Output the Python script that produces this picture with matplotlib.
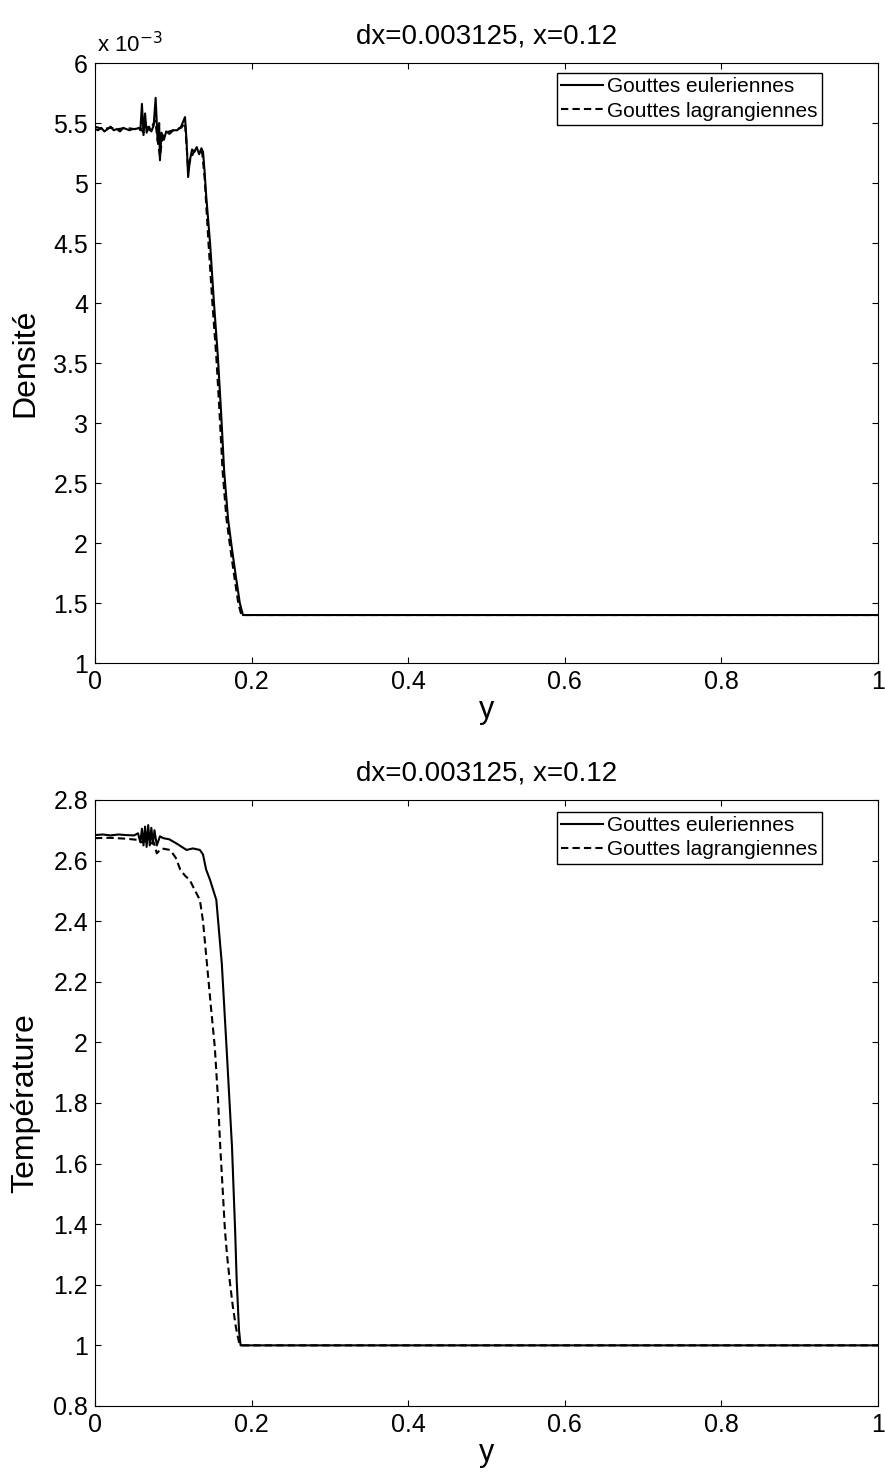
import matplotlib
matplotlib.use('Agg')
import matplotlib.pyplot as plt

plt.rcParams['font.family'] = ['Liberation Sans', 'DejaVu Sans']

# densité (en unités de 1e-3)
y_dens_e = [0.000, 0.004, 0.008, 0.012, 0.016, 0.020, 0.024, 0.028, 0.032, 0.036,
            0.040, 0.044, 0.048, 0.052, 0.056, 0.058, 0.060, 0.062, 0.064, 0.066,
            0.069, 0.072, 0.075, 0.0775, 0.080, 0.082, 0.083, 0.085, 0.088, 0.091,
            0.095, 0.100, 0.105, 0.110, 0.115, 0.117, 0.119, 0.121, 0.124, 0.127,
            0.130, 0.133, 0.136, 0.138, 0.140, 0.142, 0.147, 0.152, 0.157, 0.161,
            0.165, 0.170, 0.175, 0.180, 0.185, 0.189, 1.000]
dens_e = [5.45, 5.44, 5.46, 5.43, 5.45, 5.47, 5.44, 5.45, 5.43, 5.46,
          5.45, 5.44, 5.45, 5.45, 5.46, 5.44, 5.66, 5.40, 5.58, 5.42,
          5.47, 5.43, 5.48, 5.71, 5.35, 5.50, 5.19, 5.42, 5.36, 5.43,
          5.41, 5.44, 5.44, 5.47, 5.55, 5.35, 5.05, 5.18, 5.28, 5.26,
          5.30, 5.24, 5.29, 5.26, 5.10, 4.90, 4.50, 4.00, 3.55, 3.10,
          2.60, 2.20, 1.95, 1.72, 1.50, 1.40, 1.40]

y_dens_l = [0.000, 0.010, 0.020, 0.030, 0.040, 0.050, 0.058, 0.062, 0.066, 0.070,
            0.077, 0.080, 0.083, 0.086, 0.090, 0.100, 0.110, 0.115, 0.119, 0.122,
            0.127, 0.133, 0.137, 0.140, 0.145, 0.150, 0.155, 0.159, 0.163, 0.168,
            0.173, 0.178, 0.183, 0.187, 1.000]
dens_l = [5.47, 5.45, 5.46, 5.45, 5.46, 5.45, 5.46, 5.42, 5.47, 5.44,
          5.52, 5.36, 5.22, 5.38, 5.42, 5.44, 5.46, 5.50, 5.12, 5.20,
          5.27, 5.27, 5.25, 5.05, 4.50, 4.00, 3.55, 3.10, 2.60, 2.20,
          1.95, 1.72, 1.50, 1.40, 1.40]

# température
y_temp_e = [0.000, 0.010, 0.020, 0.030, 0.040, 0.050, 0.055, 0.058, 0.060, 0.062,
            0.064, 0.066, 0.068, 0.070, 0.072, 0.074, 0.076, 0.079, 0.083, 0.087,
            0.095, 0.105, 0.117, 0.125, 0.134, 0.138, 0.142, 0.147, 0.155, 0.162,
            0.168, 0.175, 0.179, 0.181, 0.184, 0.186, 1.000]
temp_e = [2.684, 2.686, 2.683, 2.686, 2.684, 2.683, 2.690, 2.660, 2.705, 2.650,
          2.712, 2.645, 2.717, 2.650, 2.708, 2.655, 2.700, 2.650, 2.680, 2.674,
          2.670, 2.655, 2.635, 2.640, 2.635, 2.620, 2.570, 2.536, 2.470, 2.260,
          1.986, 1.656, 1.380, 1.216, 1.050, 1.000, 1.000]

y_temp_l = [0.000, 0.020, 0.040, 0.055, 0.060, 0.065, 0.070, 0.075, 0.079, 0.085,
            0.096, 0.103, 0.109, 0.115, 0.121, 0.128, 0.134, 0.138, 0.143, 0.148,
            0.153, 0.157, 0.160, 0.163, 0.166, 0.169, 0.172, 0.176, 0.180, 0.184,
            0.186, 1.000]
temp_l = [2.674, 2.675, 2.672, 2.668, 2.660, 2.665, 2.655, 2.660, 2.624, 2.640,
          2.635, 2.610, 2.570, 2.550, 2.536, 2.500, 2.470, 2.400, 2.260, 2.120,
          1.986, 1.820, 1.656, 1.520, 1.380, 1.290, 1.216, 1.130, 1.060, 1.010,
          1.000, 1.000]

title = 'dx=0.003125, x=0.12'
labels = ['Gouttes euleriennes', 'Gouttes lagrangiennes']


def style_axes(ax):
    ax.tick_params(direction='in', top=True, right=True, labelsize=18, length=4, pad=5)
    for s in ax.spines.values():
        s.set_linewidth(0.8)
    ax.set_xlim(0, 1)
    ax.set_xticks([0, 0.2, 0.4, 0.6, 0.8, 1])
    ax.set_xticklabels(['0', '0.2', '0.4', '0.6', '0.8', '1'])
    ax.set_xlabel('y', fontsize=22, labelpad=1)
    ax.set_title(title, fontsize=20, pad=14)


def add_legend(ax, top):
    ax.legend(loc='upper right', bbox_to_anchor=(0.928, top), fontsize=15,
              frameon=True, fancybox=False, edgecolor='black', framealpha=1,
              handlelength=2.0, borderpad=0.2, labelspacing=0.25,
              handletextpad=0.2, borderaxespad=0)


fig = plt.figure(figsize=(8.85, 14.77), dpi=100)

ax1 = fig.add_axes([0.1073, 0.5511, 0.8847, 0.4062])
ax1.plot(y_dens_e, dens_e, 'k-', lw=1.5, label=labels[0])
ax1.plot(y_dens_l, dens_l, 'k--', lw=1.5, dashes=(3.5, 2), label=labels[1])
style_axes(ax1)
ax1.set_ylim(1, 6)
ax1.set_yticks([1, 1.5, 2, 2.5, 3, 3.5, 4, 4.5, 5, 5.5, 6])
ax1.set_yticklabels(['1', '1.5', '2', '2.5', '3', '3.5', '4', '4.5', '5', '5.5', '6'])
ax1.set_ylabel('Densité', fontsize=23, labelpad=9)
ax1.text(0.003, 1.01, r'x 10$^{-3}$', transform=ax1.transAxes, fontsize=16,
         ha='left', va='bottom')
add_legend(ax1, 0.983)

ax2 = fig.add_axes([0.1073, 0.0481, 0.8847, 0.4103])
ax2.plot(y_temp_e, temp_e, 'k-', lw=1.5, label=labels[0])
ax2.plot(y_temp_l, temp_l, 'k--', lw=1.5, dashes=(3.5, 2), label=labels[1])
style_axes(ax2)
ax2.set_ylim(0.8, 2.8)
ax2.set_yticks([0.8, 1, 1.2, 1.4, 1.6, 1.8, 2, 2.2, 2.4, 2.6, 2.8])
ax2.set_yticklabels(['0.8', '1', '1.2', '1.4', '1.6', '1.8', '2', '2.2', '2.4', '2.6', '2.8'])
ax2.set_ylabel('Température', fontsize=23, labelpad=9)
add_legend(ax2, 0.980)

fig.savefig('out.png', dpi=100)
